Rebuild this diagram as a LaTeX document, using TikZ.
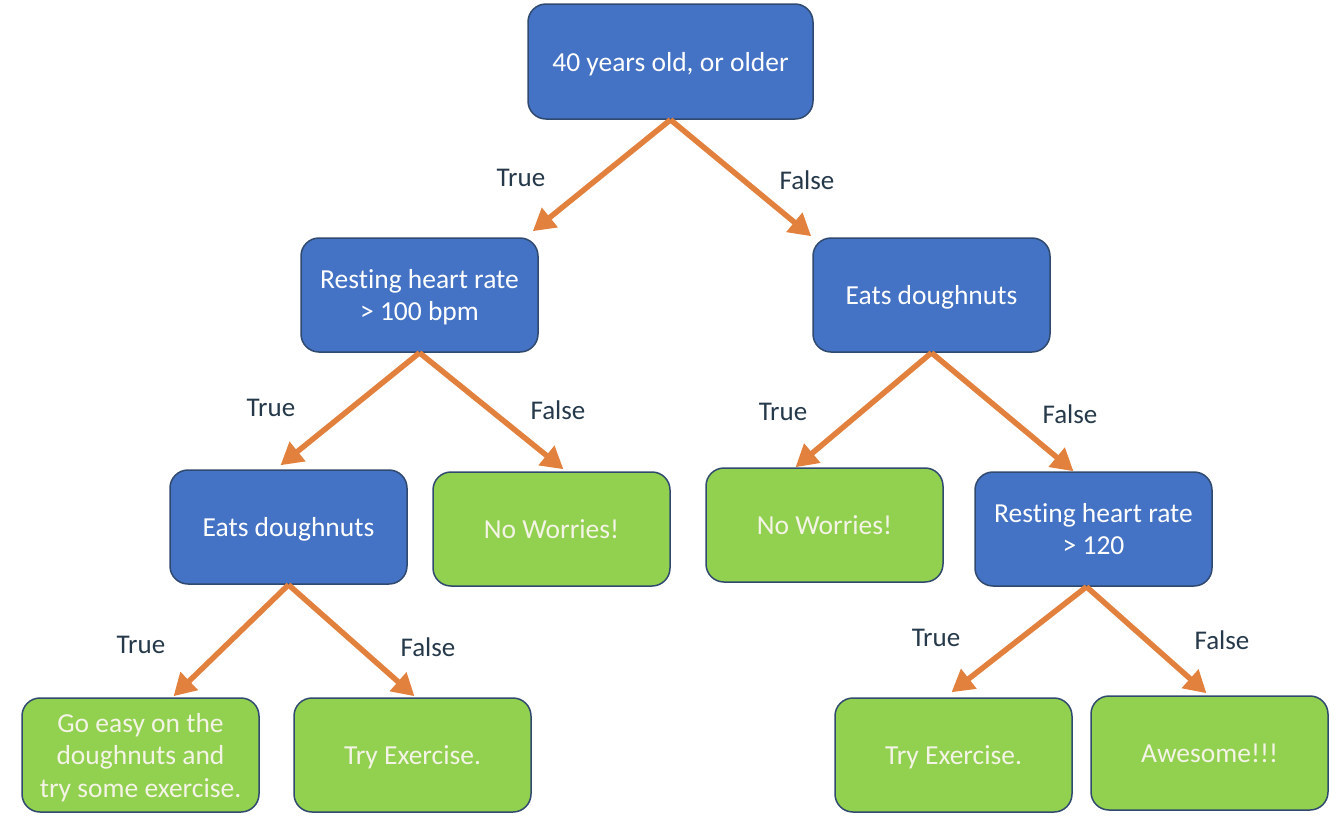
\documentclass[tikz,border=0pt]{standalone}
\usepackage{fontspec}
\setmainfont{Carlito}[Ligatures={NoCommon}]
\usetikzlibrary{arrows.meta,calc}
\definecolor{nblue}{HTML}{4472C4}
\definecolor{ngreen}{HTML}{92D050}
\definecolor{nborder}{HTML}{2F4A6E}
\definecolor{arrc}{HTML}{E2813E}
\definecolor{lblc}{HTML}{25394A}
\definecolor{gtext}{HTML}{F4F4E6}
\begin{document}
\begin{tikzpicture}[x=1pt,y=-1pt,
  box/.style={draw=nborder,line width=1.5pt,rounded corners=18pt,minimum width=237pt,minimum height=114pt,
    align=center,font=\fontsize{27.5}{32.5}\selectfont,inner sep=0pt,text depth=0pt},
  bluebox/.style={box,fill=nblue,text=white},
  greenbox/.style={box,fill=ngreen,text=gtext},
  arr/.style={draw=arrc,line width=5.5pt,-{Triangle[length=22pt,width=24pt]}},
  lbl/.style={text=lblc,font=\fontsize{27}{30}\selectfont}]
\useasboundingbox (0,0) rectangle (1344,815);
\node[bluebox,minimum width=285pt,minimum height=115pt] (root) at (670.5,61.5) {40 years old, or older};
\node[bluebox] (rh1) at (419.5,295) {Resting heart rate\\> 100 bpm};
\node[bluebox] (ed1) at (931.5,295) {Eats doughnuts};
\node[bluebox] (ed2) at (288.5,527) {Eats doughnuts};
\node[greenbox] (nw1) at (551.5,529) {No Worries!};
\node[greenbox] (nw2) at (824.5,525) {No Worries!};
\node[bluebox] (rh2) at (1093.5,529) {Resting heart rate\\> 120};
\node[greenbox] (ge) at (140.5,755) {Go easy on the\\doughnuts and\\try some exercise.};
\node[greenbox] (te1) at (412.5,755) {Try Exercise.};
\node[greenbox] (te2) at (953.5,755) {Try Exercise.};
\node[greenbox] (aw) at (1209.5,753) {Awesome!!!};
\draw[arr] (root.south) -- ($(rh1.north east)+(-6,-6)$);
\draw[arr] (root.south) -- ($(ed1.north west)+(-1,-1)$);
\draw[arr] (rh1.south) -- ($(ed2.north)+(-8,-4)$);
\draw[arr] (rh1.south) -- ($(nw1.north)+(12,-2)$);
\draw[arr] (ed1.south) -- ($(nw2.north)+(-29,0)$);
\draw[arr] (ed1.south) -- ($(rh2.north)+(-20,0)$);
\draw[arr] (ed2.south) -- ($(ge.north)+(33,-1)$);
\draw[arr] (ed2.south) -- ($(te1.north)+(2,-1)$);
\draw[arr] ($(rh2.south)+(-7,0)$) -- ($(te2.north)+(-2,-5)$);
\draw[arr] ($(rh2.south)+(-7,0)$) -- ($(aw.north)+(-3,-2)$);
\node[lbl] (l1) at (521,178) {True};
\node[lbl] (l2) at (807,180) {False};
\node[lbl] (l3) at (271,408) {True};
\node[lbl] (l4) at (558,410) {False};
\node[lbl] (l5) at (783,412) {True};
\node[lbl] (l6) at (1070,414) {False};
\node[lbl] (l7) at (141,645) {True};
\node[lbl] (l8) at (428,647) {False};
\node[lbl] (l9) at (936,638) {True};
\node[lbl] (l10) at (1222,640) {False};
\end{tikzpicture}
\end{document}
